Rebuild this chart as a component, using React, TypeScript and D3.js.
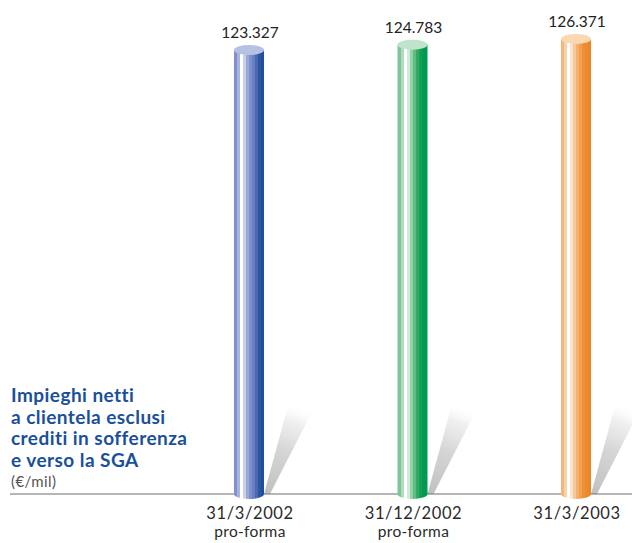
import React from "react";
import * as d3 from "d3";

// Net loans to customers (€ millions), one value per reporting date
const categories = ["31/3/2002", "31/12/2002", "31/3/2003"];
const subLabels = ["pro-forma", "pro-forma", ""];
const values = [123327, 124783, 126371];

const titleLines = [
  "Impieghi netti",
  "a clientela esclusi",
  "crediti in sofferenza",
  "e verso la SGA",
];
const unitLabel = "(€/mil)";

// Vertical stripe colours for each cylinder, left to right, plus the cap colour
const palettes = [
  {
    stripes: ["#7f92cb", "#a8b4de", "#ffffff", "#c8d0eb", "#9aa8d8", "#7d91ca", "#6880c1", "#4b69b3", "#2a56a4", "#1f4e9f"],
    cap: "#b5c0e3",
  },
  {
    stripes: ["#7cc698", "#b1ddbe", "#ffffff", "#cfecd8", "#94d2a9", "#5fbd84", "#33a966", "#12a056", "#009b4e", "#009a4d"],
    cap: "#bfe3cb",
  },
  {
    stripes: ["#f4b67e", "#f9d2ab", "#ffffff", "#fde3ca", "#f9c899", "#f5b06f", "#f29f4f", "#ee9039", "#ec8a2c", "#eb8728"],
    cap: "#fbd7b2",
  },
];

const W = 632;
const H = 543;
const baseY = 494;
const cylW = 30;
const ry = 5;
const shadowH = 88;

const itFormat = d3.formatLocale({
  decimal: ",",
  thousands: ".",
  grouping: [3],
  currency: ["€", ""],
}).format(",d");

export default function App() {
  const x = d3.scalePoint<string>().domain(categories).range([249, 576]);
  const y = d3.scaleLinear().domain([0, 126371]).range([baseY, 39]);

  const font = "Lato, 'Open Sans', sans-serif";

  return (
    <svg
      width={W}
      height={H}
      viewBox={`0 0 ${W} ${H}`}
      style={{ position: "absolute", left: 0, top: 0, background: "#fff" }}
    >
      <defs>
        {palettes.map((p, i) => {
          const n = p.stripes.length;
          const stops: React.ReactNode[] = [];
          p.stripes.forEach((c, k) => {
            stops.push(<stop key={`a${k}`} offset={`${(k / n) * 100}%`} stopColor={c} />);
            stops.push(<stop key={`b${k}`} offset={`${((k + 1) / n) * 100}%`} stopColor={c} />);
          });
          return (
            <linearGradient key={i} id={`body${i}`} x1="0" x2="1" y1="0" y2="0">
              {stops}
            </linearGradient>
          );
        })}
        {/* each shadow fades along its own slant, from the cylinder foot upward */}
        {categories.map((c, i) => {
          const xr = (x(c) as number) + cylW / 2;
          return (
            <linearGradient
              key={`sg${i}`}
              id={`shadow${i}`}
              gradientUnits="userSpaceOnUse"
              x1={xr + 2}
              y1={baseY}
              x2={xr + 36}
              y2={baseY - shadowH}
            >
              <stop offset="0%" stopColor="#bdbdbd" stopOpacity={0.95} />
              <stop offset="50%" stopColor="#cecece" stopOpacity={0.85} />
              <stop offset="82%" stopColor="#e2e2e2" stopOpacity={0.55} />
              <stop offset="100%" stopColor="#ffffff" stopOpacity={0} />
            </linearGradient>
          );
        })}
      </defs>

      {/* cast shadows */}
      {categories.map((c, i) => {
        const xr = (x(c) as number) + cylW / 2;
        const pts = [
          [xr, baseY],
          [xr + 24, baseY - shadowH],
          [xr + 51, baseY - shadowH],
          [xr + 6, baseY],
        ];
        return (
          <polygon
            key={`sh${i}`}
            points={pts.map((p) => p.join(",")).join(" ")}
            fill={`url(#shadow${i})`}
          />
        );
      })}

      {/* baseline */}
      <line x1={10} x2={W} y1={baseY} y2={baseY} stroke="#6e6e6e" strokeWidth={1.2} />

      {/* cylinders */}
      {categories.map((c, i) => {
        const cx = x(c) as number;
        const top = y(values[i]);
        const left = cx - cylW / 2;
        return (
          <g key={`cyl${i}`}>
            <ellipse cx={cx} cy={baseY} rx={cylW / 2} ry={ry} fill={`url(#body${i})`} />
            <rect x={left} y={top} width={cylW} height={baseY - top} fill={`url(#body${i})`} />
            <ellipse cx={cx} cy={top} rx={cylW / 2} ry={ry} fill={palettes[i].cap} />
            <text
              x={cx + 1}
              y={top - ry - 7}
              textAnchor="middle"
              fontFamily={font}
              fontSize={15.5}
              fill="#222"
            >
              {itFormat(values[i])}
            </text>
          </g>
        );
      })}

      {/* category labels */}
      {categories.map((c, i) => (
        <g key={`lab${i}`} fontFamily={font} fill="#2a2a2a" textAnchor="middle">
          <text x={(x(c) as number) + 1} y={519} fontSize={16.5} letterSpacing={0.6}>
            {c}
          </text>
          {subLabels[i] && (
            <text x={(x(c) as number) + 1} y={537} fontSize={15.5} letterSpacing={0.3}>
              {subLabels[i]}
            </text>
          )}
        </g>
      ))}

      {/* title */}
      <g fontFamily={font}>
        {titleLines.map((t, i) => (
          <text
            key={i}
            x={11}
            y={402 + i * 21.7}
            fontSize={19}
            fontWeight={700}
            letterSpacing={0.45}
            fill="#1a4f9b"
          >
            {t}
          </text>
        ))}
        <text x={11} y={487} fontSize={15} letterSpacing={0.4} fill="#555">
          {unitLabel}
        </text>
      </g>
    </svg>
  );
}
